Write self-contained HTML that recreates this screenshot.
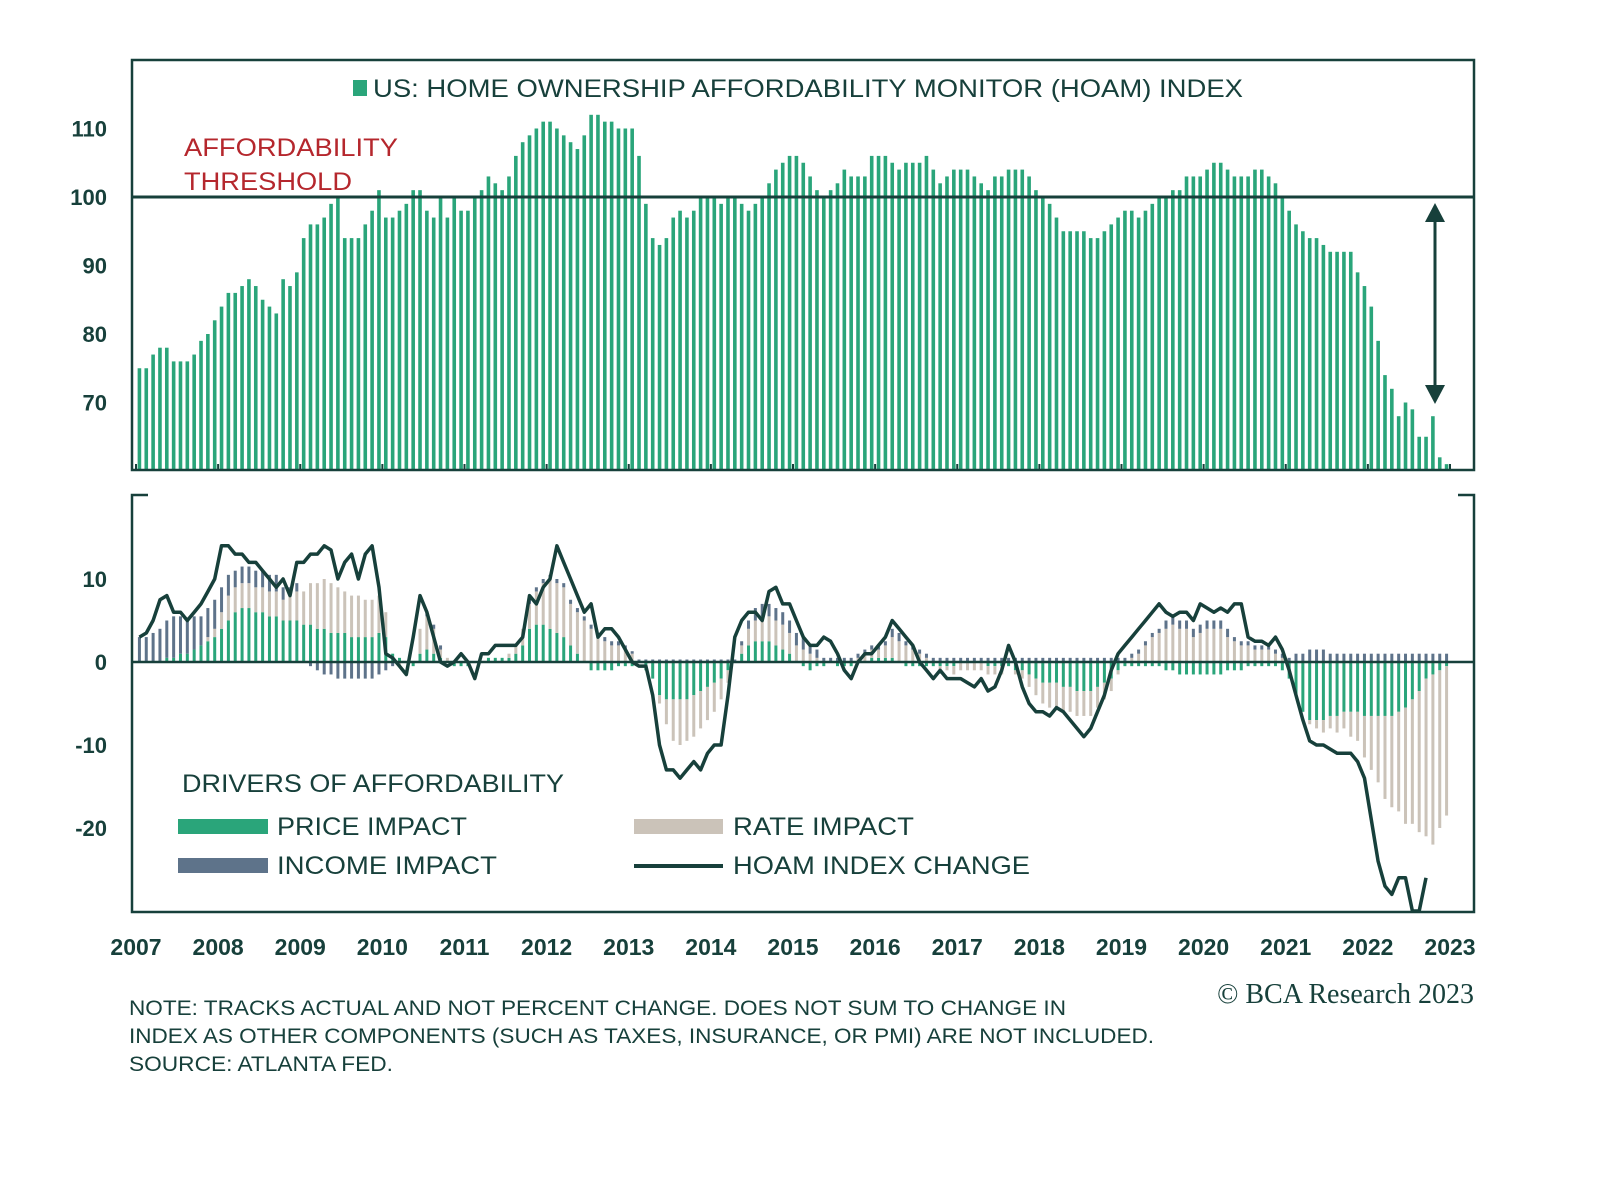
<!DOCTYPE html>
<html><head><meta charset="utf-8"><style>
html,body{margin:0;padding:0;background:#fff;}
svg{display:block;font-family:"Liberation Sans",sans-serif;}
</style></head><body>
<svg id="c" width="1600" height="1198" viewBox="0 0 1600 1198">
<g id="topPanel"></g>
<g id="botPanel"></g>
<g id="static">
 <rect x="353" y="80" width="14" height="16" fill="#2aa57a"/>
 <text x="373" y="97" font-size="25" fill="#17403b" textLength="870" lengthAdjust="spacingAndGlyphs">US: HOME OWNERSHIP AFFORDABILITY MONITOR (HOAM) INDEX</text>
 <text x="184" y="156" font-size="25" fill="#b5272d" textLength="214" lengthAdjust="spacingAndGlyphs">AFFORDABILITY</text>
 <text x="184" y="190" font-size="25" fill="#b5272d" textLength="168" lengthAdjust="spacingAndGlyphs">THRESHOLD</text>
 <g stroke="#17403b" fill="#17403b">
  <line x1="1435" y1="215" x2="1435" y2="392" stroke-width="3"/>
  <polygon points="1425,222 1435,203 1445,222" stroke="none"/>
  <polygon points="1425,385 1435,404 1445,385" stroke="none"/>
 </g>
 <text x="182" y="792" font-size="25" fill="#17403b" textLength="382" lengthAdjust="spacingAndGlyphs">DRIVERS OF AFFORDABILITY</text>
 <rect x="178" y="819" width="90" height="15" fill="#2aa57a"/>
 <text x="277" y="835" font-size="25" fill="#17403b" textLength="190" lengthAdjust="spacingAndGlyphs">PRICE IMPACT</text>
 <rect x="634" y="819" width="89" height="15" fill="#cbc3b9"/>
 <text x="733" y="835" font-size="25" fill="#17403b" textLength="181" lengthAdjust="spacingAndGlyphs">RATE IMPACT</text>
 <rect x="178" y="858" width="90" height="15" fill="#5e738a"/>
 <text x="277" y="874" font-size="25" fill="#17403b" textLength="220" lengthAdjust="spacingAndGlyphs">INCOME IMPACT</text>
 <line x1="634" y1="866" x2="723" y2="866" stroke="#17403b" stroke-width="4"/>
 <text x="733" y="874" font-size="25" fill="#17403b" textLength="297" lengthAdjust="spacingAndGlyphs">HOAM INDEX CHANGE</text>
 <text x="1474" y="1003" font-size="28" text-anchor="end" fill="#17403b" font-family="Liberation Serif,serif">© BCA Research 2023</text>
 <g font-size="21" fill="#17403b">
  <text x="129" y="1015" textLength="937" lengthAdjust="spacingAndGlyphs">NOTE: TRACKS ACTUAL AND NOT PERCENT CHANGE. DOES NOT SUM TO CHANGE IN</text>
  <text x="129" y="1043" textLength="1025" lengthAdjust="spacingAndGlyphs">INDEX AS OTHER COMPONENTS (SUCH AS TAXES, INSURANCE, OR PMI) ARE NOT INCLUDED.</text>
  <text x="129" y="1071" textLength="264" lengthAdjust="spacingAndGlyphs">SOURCE: ATLANTA FED.</text>
 </g>
</g>
</svg>
<script>
var years=["2007","2008","2009","2010","2011","2012","2013","2014","2015","2016","2017","2018","2019","2020","2021","2022","2023"];
var topTicks=[70,80,90,100,110];
var botTicks=[10,0,-10,-20];
var hoam=[
75,75,77,78,78,76,76,76,77,79,80,82,
84,86,86,87,88,87,85,84,83,88,87,89,
94,96,96,97,99,100,94,94,94,96,98,101,
97,97,98,99,101,101,98,97,100,97,100,98,
98,100,101,103,102,101,103,106,108,109,110,111,
111,110,109,108,107,109,112,112,111,111,110,110,
110,106,99,94,93,94,97,98,97,98,100,100,
100,99,100,100,99,98,99,100,102,104,105,106,
106,105,103,101,100,101,102,104,103,103,103,106,
106,106,105,104,105,105,105,106,104,102,103,104,
104,104,103,102,101,103,103,104,104,104,103,101,
100,99,97,95,95,95,95,94,94,95,96,97,
98,98,97,98,99,100,100,101,101,103,103,103,
104,105,105,104,103,103,103,104,104,103,102,100,
98,96,95,94,94,93,92,92,92,92,89,87,
84,79,74,72,68,70,69,65,65,68,62,61];
var price=[
0,0,0,0,0.5,0.5,1,1,1.5,2,2.5,3,
4,5,6,6.5,6.5,6,6,5.5,5.5,5,5,5,
4.5,4.5,4,4,3.5,3.5,3.5,3,3,3,3,3.5,
3,1,0.5,0,-0.5,1,1.5,1,0.5,0,-0.5,-0.5,
-0.5,0,0,0.5,0.5,0.5,0.5,1,2,4,4.5,4.5,
4,3.5,3,2,1,0,-1,-1,-1,-1,-0.5,-0.5,
-0.5,0,-1,-2,-4,-4.5,-4.5,-4.5,-4.5,-4,-3.5,-3,
-2.5,-2,-1,0,1,2,2.5,2.5,2.5,2,1.5,1,
0,-0.5,-1,-0.5,-0.5,0,-0.5,-0.5,-0.5,0,0,0.5,
0.5,0.5,0.5,0,-0.5,-0.5,-0.5,-0.5,-0.5,-0.5,-0.5,-0.5,
0,0,0,0,-0.5,-0.5,-0.5,-0.5,-1,-1,-1.5,-2,
-2.5,-2.5,-2.5,-3,-3,-3.5,-3.5,-3.5,-3,-2.5,-2,-1,
-0.5,-0.5,-0.5,-0.5,-0.5,-0.5,-1,-1,-1.5,-1.5,-1.5,-1.5,
-1.5,-1.5,-1.5,-1,-1,-1,-0.5,-0.5,-0.5,-0.5,-0.5,-1,
-2,-4,-6,-7,-7,-7,-6.5,-6.5,-6,-6,-6,-6.5,
-6.5,-6.5,-6.5,-6.5,-6,-5.5,-4.5,-3.5,-2,-1.5,-1,-0.5];
var rate=[
0,0,0,0,0,0,0,0,0,0,0.5,1,
2,3,3,3,3,3,3,3,3,2.5,3,3.5,
4,5,5.5,6,6,5.5,5,5,5,4.5,4.5,4.5,
3,0,-0.5,0,0,3,4,3,1,0.5,0,0,
0,0,0,0,0,0,0.5,1,2,3,4,5,
6,6,6,5,5,5,4,3,2.5,2,2,1.5,
1,0,0,0,-1,-3,-5,-5.5,-5,-5,-4.5,-4,
-3.5,-2.5,-1.5,0,1,2,2.5,3,3,3,3,2.5,
2,1.5,1,0.5,0,0,0,0,0,0.5,1,1,
1,1.5,2.5,2.5,2,1.5,1,0.5,0,-0.5,-0.5,-1,
-1,-1,-1,-1,-1,-1,-1,0,-0.5,-1,-1.5,-2,
-2.5,-3,-3,-3,-3,-3,-3,-3,-2.5,-2,-1.5,-0.5,
0,0.5,1,2,3,3.5,4,4.5,4,4,3,3.5,
4,4,4,3,2.5,2,2,1.5,1.5,1.5,1,0.5,
0,0,0,-0.5,-1,-1.5,-1.5,-2,-2,-3,-3.5,-5,
-6.5,-8,-10,-11,-12,-14,-15,-17,-19,-20.5,-19,-18];
var income=[
3,3,3.5,4,4.5,5,4.5,4,4,3.5,3.5,3.5,
3,2.5,2,2,2,2,2,2,2,1.5,1,1,
0,-0.5,-1,-1.5,-1.5,-2,-2,-2,-2,-2,-2,-1.5,
-1,-0.5,0,0,0,0,0.5,0.5,0.5,0,0,0,
0,0,0,0,0,0,0,0,0,0.5,0.5,0.5,
0.5,0.5,0.5,0.5,0.5,0.5,0.5,0.5,0.5,0.5,0.5,0.5,
0.3,0.3,0.3,0.3,0.3,0.3,0.3,0.3,0.3,0.3,0.3,0.3,
0.3,0.3,0.3,0.3,0.5,1,1.5,1.5,1.5,1.5,1.5,1.5,
1.5,1.5,1,1,0.5,0.5,0.5,0.5,0.5,0.5,0.5,0.5,
0.5,0.5,1,1,0.5,0.5,0.5,0.5,0.5,0.5,0.5,0.5,
0.5,0.5,0.5,0.5,0.5,0.5,0.5,0.5,0.5,0.5,0.5,0.5,
0.5,0.5,0.5,0.5,0.5,0.5,0.5,0.5,0.5,0.5,0.5,0.5,
0.5,0.5,0.5,0.5,0.5,0.5,1,1,1,1,1,1,
1,1,1,1,0.5,0.5,0.5,0.5,0.5,0.5,0.5,0.5,
0.5,1,1,1.5,1.5,1.5,1,1,1,1,1,1,
1,1,1,1,1,1,1,1,1,1,1,1];
var change=[
3,3.5,5,7.5,8,6,6,5,6,7,8.5,10,
14,14,13,13,12,12,11,10,9,10,8,12,
12,13,13,14,13.5,10,12,13,10,13,14,9,
1,0.5,-0.5,-1.5,3,8,6,3,0,-0.5,0,1,
0,-2,1,1,2,2,2,2,3,8,7,9,
10,14,12,10,8,6,7,3,4,4,3,1.5,
0,-0.5,-0.5,-4,-10,-13,-13,-14,-13,-12,-13,-11,
-10,-10,-4,3,5,6,6,5,8.5,9,7,7,
5,3,2,2,3,2.5,1,-1,-2,0,1,1,
2,3,5,4,3,2,0,-1,-2,-1,-2,-2,
-2,-2.5,-3,-2,-3.5,-3,-1,2,0,-3,-5,-6,
-6,-6.5,-5.5,-6,-7,-8,-9,-8,-6,-4,-1,1,
2,3,4,5,6,7,6,5.5,6,6,5,7,
6.5,6,6.5,6,7,7,3,2.5,2.5,2,3,1.5,
-1,-4,-7,-9.5,-10,-10,-10.5,-11,-11,-11,-12,-14,
-19,-24,-27,-28,-26,-26,-30,-30,-26];

(function(){
var NS="http://www.w3.org/2000/svg";
var DARK="#17403b",GREEN="#2aa57a",BEIGE="#cbc3b9",BLUE="#5e738a";
var L=132,R=1474,T1=60,B1=470,T2=495,B2=912;
var x0=136,step=(1450-136)/192;
function xm(i){return x0+(i+0.5)*step;}
function xy(k){return x0+k*step*12;}
function yT(v){return 197-(v-100)*6.85;}
function yB(v){return 662-v*8.3;}
function mk(p,tag,at){var e=document.createElementNS(NS,tag);for(var k in at)e.setAttribute(k,at[k]);p.appendChild(e);return e;}
var topG=document.getElementById('topPanel'),botG=document.getElementById('botPanel');

hoam.forEach(function(v,i){
 var y=yT(v);
 var r=mk(topG,'rect',{x:xm(i)-1.8,y:y,width:3.6,height:B1-y,fill:GREEN});
 
 
});
var f1=mk(topG,'rect',{x:L,y:T1,width:R-L,height:B1-T1,fill:'none',stroke:DARK,'stroke-width':2.5});


var th=mk(topG,'line',{x1:L,x2:R,y1:yT(100),y2:yT(100),stroke:DARK,'stroke-width':3});


topTicks.forEach(function(t){
 var tx=mk(topG,'text',{x:107,y:yT(t)+8,'font-size':22,'font-weight':'bold','text-anchor':'end',fill:DARK});
 tx.textContent=t;
 
 
});
years.forEach(function(y,k){
 var tk=mk(topG,'line',{x1:xy(k),x2:xy(k),y1:B1,y2:B1-6,stroke:DARK,'stroke-width':2});
 
 
});

for(var i=0;i<price.length;i++){
 var pos=0,neg=0;
 [[price[i],GREEN],[rate[i],BEIGE],[income[i],BLUE]].forEach(function(pc){
  var v=pc[0],c=pc[1];
  if(!v)return;
  var a,b;
  if(v>0){a=pos;b=pos+v;pos=b;}else{a=neg;b=neg+v;neg=b;}
  var y1=yB(Math.max(a,b)),y2=yB(Math.min(a,b));
  var r=mk(botG,'rect',{x:xm(i)-1.5,y:y1,width:3,height:y2-y1,fill:c});
  
  
 });
}
var z=mk(botG,'line',{x1:L,x2:R,y1:yB(0),y2:yB(0),stroke:DARK,'stroke-width':2.5});


var pl=mk(botG,'polyline',{points:change.map(function(v,i){return xm(i).toFixed(1)+','+yB(v).toFixed(1);}).join(' '),fill:'none',stroke:DARK,'stroke-width':3.5,'stroke-linejoin':'round'});


var f2=mk(botG,'path',{d:'M'+(L+16)+','+T2+' H'+L+' V'+B2+' H'+R+' V'+T2+' H'+(R-16),fill:'none',stroke:DARK,'stroke-width':2.5});


botTicks.forEach(function(t){
 var tx=mk(botG,'text',{x:107,y:yB(t)+8,'font-size':22,'font-weight':'bold','text-anchor':'end',fill:DARK});
 tx.textContent=t;
 
 
});
years.forEach(function(y,k){
 var tx=mk(botG,'text',{x:xy(k),y:955,'font-size':23,'font-weight':'bold','text-anchor':'middle',fill:DARK});
 tx.textContent=y;
 
 
});
})();
</script>
</body></html>
